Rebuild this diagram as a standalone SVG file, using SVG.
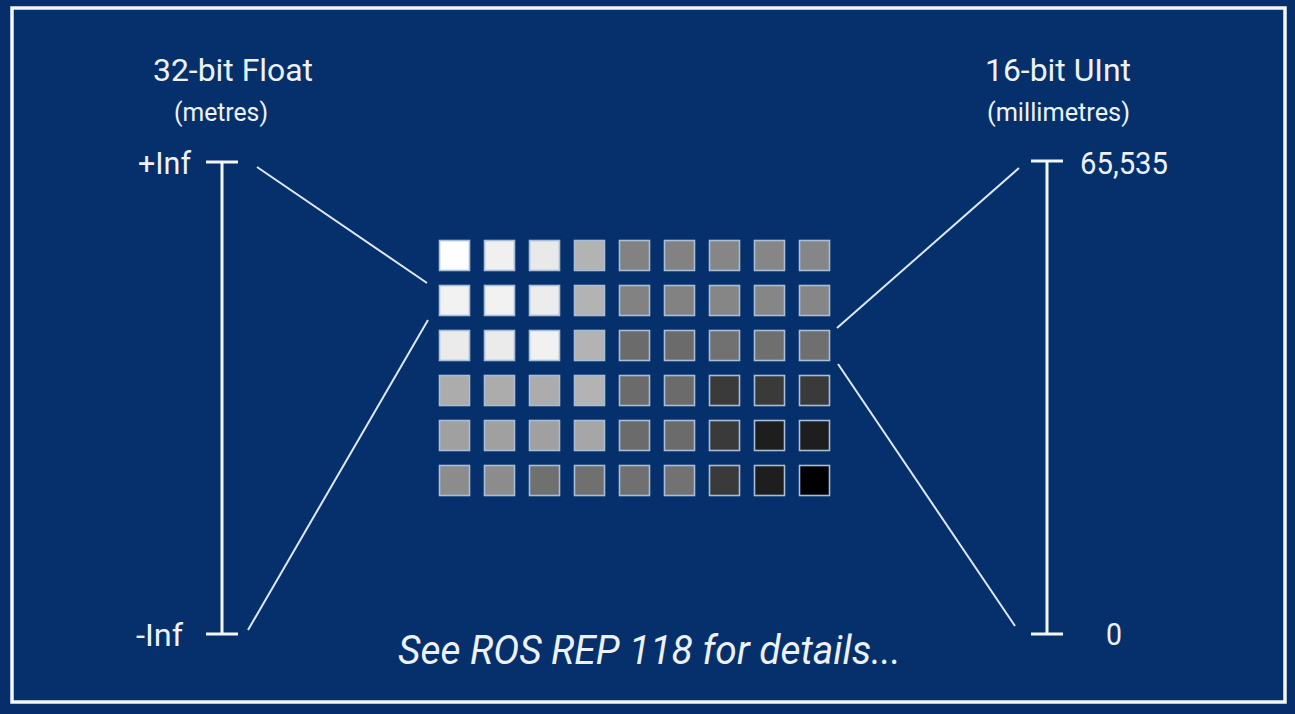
<svg xmlns="http://www.w3.org/2000/svg" width="1295" height="714" viewBox="0 0 1295 714">
<style>
.t{fill:#eef2f8;font-family:Roboto,"Liberation Sans",sans-serif}
.sq{stroke:#a9bdd6;stroke-width:1.6}
.ax{stroke:#f4f6fa;stroke-width:3;fill:none}
.ln{stroke:#dfe7f2;stroke-width:2;fill:none}
</style>
<rect x="0" y="0" width="1295" height="714" fill="#062e6a"/>
<rect id="frame" x="12" y="8" width="1273" height="694" fill="#06306c" stroke="#f4f6fa" stroke-width="3.5"/>
<g id="left-labels">
<text class="t" x="153" y="81" font-size="31" textLength="160" lengthAdjust="spacingAndGlyphs">32-bit Float</text>
<text class="t" x="174" y="121" font-size="25" textLength="94" lengthAdjust="spacingAndGlyphs">(metres)</text>
<text class="t" x="138" y="174" font-size="31" textLength="53" lengthAdjust="spacingAndGlyphs">+Inf</text>
<text class="t" x="136" y="646" font-size="31" textLength="47" lengthAdjust="spacingAndGlyphs">-Inf</text>
</g>
<g id="right-labels">
<text class="t" x="985" y="81" font-size="31" textLength="146" lengthAdjust="spacingAndGlyphs">16-bit UInt</text>
<text class="t" x="987" y="121" font-size="25" textLength="143" lengthAdjust="spacingAndGlyphs">(millimetres)</text>
<text class="t" x="1080" y="174" font-size="31" textLength="88" lengthAdjust="spacingAndGlyphs">65,535</text>
<text class="t" x="1106" y="645" font-size="31" textLength="16" lengthAdjust="spacingAndGlyphs">0</text>
</g>
<g id="left-scale" class="ax">
<line x1="206" y1="162" x2="238" y2="162"/>
<line x1="222" y1="162" x2="222" y2="634"/>
<line x1="206" y1="634" x2="238" y2="634"/>
</g>
<g id="right-scale" class="ax">
<line x1="1031" y1="161" x2="1063" y2="161"/>
<line x1="1047" y1="161" x2="1047" y2="634"/>
<line x1="1031" y1="634" x2="1063" y2="634"/>
</g>
<g id="connectors" class="ln">
<line x1="257" y1="167" x2="427" y2="283"/>
<line x1="248" y1="630" x2="428" y2="320"/>
<line x1="1019" y1="168" x2="837" y2="328"/>
<line x1="838" y1="364" x2="1015" y2="626"/>
</g>
<g id="grid" class="sq">
<rect x="439.5" y="240.5" width="30" height="30" fill="#ffffff"/>
<rect x="484.5" y="240.5" width="30" height="30" fill="#f0f0f0"/>
<rect x="529.5" y="240.5" width="30" height="30" fill="#e9e9e9"/>
<rect x="574.5" y="240.5" width="30" height="30" fill="#b3b3b3"/>
<rect x="619.5" y="240.5" width="30" height="30" fill="#828282"/>
<rect x="664.5" y="240.5" width="30" height="30" fill="#828282"/>
<rect x="709.5" y="240.5" width="30" height="30" fill="#868686"/>
<rect x="754.5" y="240.5" width="30" height="30" fill="#868686"/>
<rect x="799.5" y="240.5" width="30" height="30" fill="#868686"/>

<rect x="439.5" y="285.5" width="30" height="30" fill="#f2f2f2"/>
<rect x="484.5" y="285.5" width="30" height="30" fill="#f2f2f2"/>
<rect x="529.5" y="285.5" width="30" height="30" fill="#ececec"/>
<rect x="574.5" y="285.5" width="30" height="30" fill="#b3b3b3"/>
<rect x="619.5" y="285.5" width="30" height="30" fill="#828282"/>
<rect x="664.5" y="285.5" width="30" height="30" fill="#828282"/>
<rect x="709.5" y="285.5" width="30" height="30" fill="#868686"/>
<rect x="754.5" y="285.5" width="30" height="30" fill="#868686"/>
<rect x="799.5" y="285.5" width="30" height="30" fill="#868686"/>

<rect x="439.5" y="330.5" width="30" height="30" fill="#ebebeb"/>
<rect x="484.5" y="330.5" width="30" height="30" fill="#ebebeb"/>
<rect x="529.5" y="330.5" width="30" height="30" fill="#f1f1f1"/>
<rect x="574.5" y="330.5" width="30" height="30" fill="#b3b3b3"/>
<rect x="619.5" y="330.5" width="30" height="30" fill="#6b6b6b"/>
<rect x="664.5" y="330.5" width="30" height="30" fill="#6b6b6b"/>
<rect x="709.5" y="330.5" width="30" height="30" fill="#717171"/>
<rect x="754.5" y="330.5" width="30" height="30" fill="#6f6f6f"/>
<rect x="799.5" y="330.5" width="30" height="30" fill="#6f6f6f"/>

<rect x="439.5" y="375.5" width="30" height="30" fill="#acacac"/>
<rect x="484.5" y="375.5" width="30" height="30" fill="#acacac"/>
<rect x="529.5" y="375.5" width="30" height="30" fill="#acacac"/>
<rect x="574.5" y="375.5" width="30" height="30" fill="#b3b3b3"/>
<rect x="619.5" y="375.5" width="30" height="30" fill="#6b6b6b"/>
<rect x="664.5" y="375.5" width="30" height="30" fill="#6b6b6b"/>
<rect x="709.5" y="375.5" width="30" height="30" fill="#3a3a3a"/>
<rect x="754.5" y="375.5" width="30" height="30" fill="#3a3a3a"/>
<rect x="799.5" y="375.5" width="30" height="30" fill="#3a3a3a"/>

<rect x="439.5" y="420.5" width="30" height="30" fill="#a0a0a0"/>
<rect x="484.5" y="420.5" width="30" height="30" fill="#a0a0a0"/>
<rect x="529.5" y="420.5" width="30" height="30" fill="#a0a0a0"/>
<rect x="574.5" y="420.5" width="30" height="30" fill="#a6a6a6"/>
<rect x="619.5" y="420.5" width="30" height="30" fill="#6b6b6b"/>
<rect x="664.5" y="420.5" width="30" height="30" fill="#6b6b6b"/>
<rect x="709.5" y="420.5" width="30" height="30" fill="#3a3a3a"/>
<rect x="754.5" y="420.5" width="30" height="30" fill="#1e1e1e"/>
<rect x="799.5" y="420.5" width="30" height="30" fill="#1e1e1e"/>

<rect x="439.5" y="465.5" width="30" height="30" fill="#8c8c8c"/>
<rect x="484.5" y="465.5" width="30" height="30" fill="#8c8c8c"/>
<rect x="529.5" y="465.5" width="30" height="30" fill="#707070"/>
<rect x="574.5" y="465.5" width="30" height="30" fill="#707070"/>
<rect x="619.5" y="465.5" width="30" height="30" fill="#707070"/>
<rect x="664.5" y="465.5" width="30" height="30" fill="#727272"/>
<rect x="709.5" y="465.5" width="30" height="30" fill="#3a3a3a"/>
<rect x="754.5" y="465.5" width="30" height="30" fill="#1e1e1e"/>
<rect x="799.5" y="465.5" width="30" height="30" fill="#000000"/>
</g>
<g id="footnote">
<text class="t" x="398" y="664" font-size="41" font-style="italic" textLength="503" lengthAdjust="spacingAndGlyphs">See ROS REP 118 for details...</text>
</g>
</svg>
